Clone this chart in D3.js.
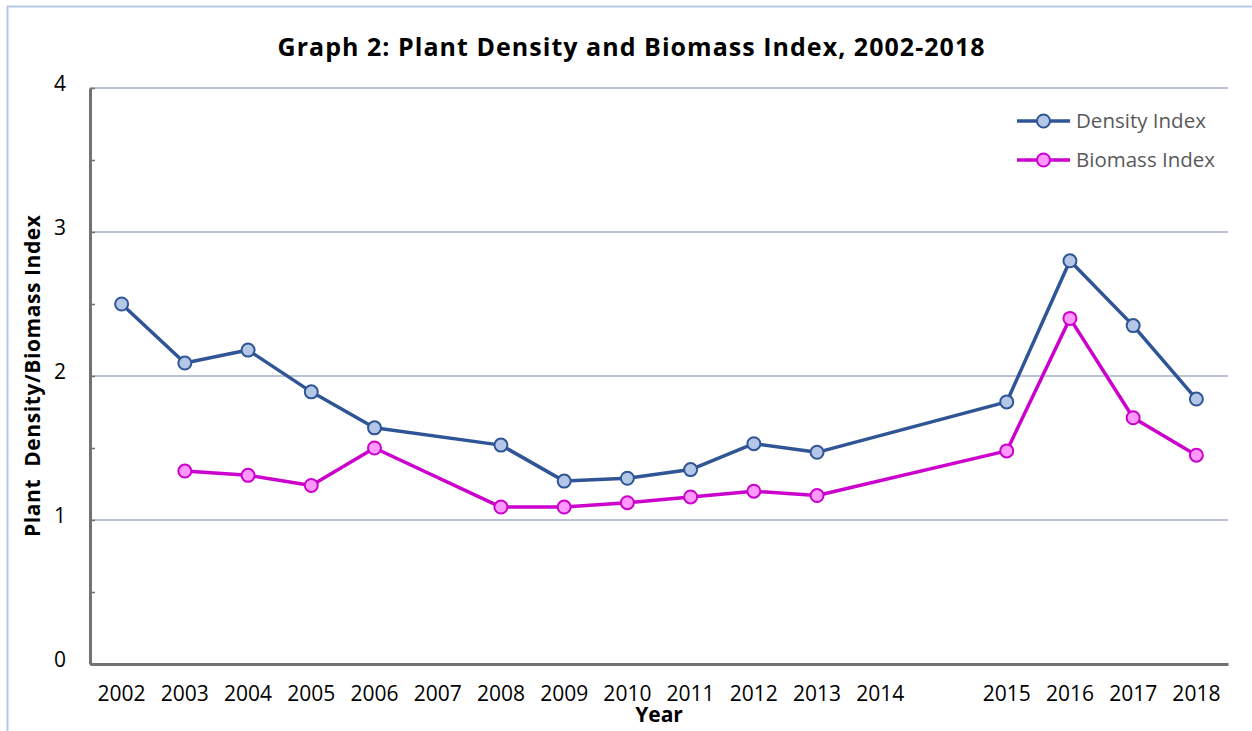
<!DOCTYPE html>
<html>
<head>
<meta charset="utf-8">
<script src="https://cdn.jsdelivr.net/npm/d3@7"></script>
<style>
  body { margin: 0; background: #fff; }
  svg { display: block; }
</style>
</head>
<body>
<div id="chart"></div>
<script>
// ── Data ─────────────────────────────────────────────────────────
// the " " category is the empty slot Excel left between 2014 and 2015
const years = ["2002", "2003", "2004", "2005", "2006", "2007", "2008", "2009", "2010",
    "2011", "2012", "2013", "2014", " ", "2015", "2016", "2017", "2018"];
const densityIndex = [2.50, 2.09, 2.18, 1.89, 1.64, null, 1.52, 1.27, 1.29,
    1.35, 1.53, 1.47, null, null, 1.82, 2.80, 2.35, 1.84];
const biomassIndex = [null, 1.34, 1.31, 1.24, 1.50, null, 1.09, 1.09, 1.12,
    1.16, 1.20, 1.17, null, null, 1.48, 2.40, 1.71, 1.45];
const yTicks = [0, 0.5, 1, 1.5, 2, 2.5, 3, 3.5, 4];

const seriesList = [
    { name: "Density Index", values: densityIndex, stroke: "#2f5597", fill: "#b4c7e7" },
    { name: "Biomass Index", values: biomassIndex, stroke: "#cc00cc", fill: "#ff99ff" }
];

// ── Layout ───────────────────────────────────────────────────────
const width = 1252;
const height = 731;
const margin = { top: 88, right: 24, bottom: 67, left: 90 };
const innerWidth = width - margin.left - margin.right;
const innerHeight = height - margin.top - margin.bottom;
const fontFamily = "'Open Sans', sans-serif";

const svg = d3.select("#chart")
    .append("svg")
    .attr("width", width)
    .attr("height", height)
    .attr("font-family", fontFamily);

// outer chart frame (only the left and top edges fall inside the picture)
svg.append("path")
    .attr("d", `M7.5,${height} V6.5 H${width}`)
    .attr("fill", "none")
    .attr("stroke", "#b4c7e7")
    .attr("stroke-width", 2);

const innerChart = svg.append("g")
    .attr("transform", `translate(${margin.left},${margin.top})`);

// Scales
const xScale = d3.scaleBand()
    .domain(years)
    .range([0, innerWidth]);

const yScale = d3.scaleLinear()
    .domain([0, 4])
    .range([innerHeight, 0]);

// Gridlines at whole values
innerChart.selectAll(".grid")
    .data(yTicks.filter(d => d > 0 && Number.isInteger(d)))
    .join("line")
    .attr("class", "grid")
    .attr("x1", 0)
    .attr("x2", innerWidth)
    .attr("y1", d => yScale(d))
    .attr("y2", d => yScale(d))
    .attr("stroke", "#b9c3d3")
    .attr("stroke-width", 2);

// Left axis: small inward ticks every 0.5, labels on whole numbers
const leftAxis = d3.axisLeft(yScale)
    .tickValues(yTicks)
    .tickSize(-5)
    .tickSizeOuter(0)
    .tickPadding(24)
    .tickFormat(d => Number.isInteger(d) ? d : "");
const yAxisG = innerChart.append("g").call(leftAxis)
    .attr("font-size", 21)
    .attr("font-family", fontFamily);
yAxisG.select(".domain").attr("stroke", "#767171").attr("stroke-width", 3);
yAxisG.selectAll(".tick line").attr("stroke", "#767171").attr("stroke-width", 1.5);
yAxisG.selectAll(".tick text").attr("fill", "#000").attr("dy", "0.1em");
yAxisG.selectAll(".tick text").filter(function () { return this.textContent === ""; }).remove();

// Bottom axis
const bottomAxis = d3.axisBottom(xScale).tickSize(0).tickPadding(22);
const xAxisG = innerChart.append("g")
    .attr("transform", `translate(0,${innerHeight})`)
    .call(bottomAxis)
    .attr("font-size", 21)
    .attr("font-family", fontFamily);
xAxisG.select(".domain").attr("stroke", "#767171").attr("stroke-width", 3);
xAxisG.selectAll(".tick text").attr("fill", "#000");
xAxisG.selectAll(".tick text").filter(function () { return this.textContent.trim() === ""; }).remove();

// Lines and markers (gaps are bridged, as in the source)
const xPos = i => xScale(years[i]) + xScale.bandwidth() / 2;
const lineGen = d3.line()
    .x(d => xPos(d.i))
    .y(d => yScale(d.v));

seriesList.forEach(s => {
    const pts = s.values
        .map((v, i) => ({ v, i }))
        .filter(d => d.v !== null);

    innerChart.append("path")
        .datum(pts)
        .attr("d", lineGen)
        .attr("fill", "none")
        .attr("stroke", s.stroke)
        .attr("stroke-width", 3.5)
        .attr("stroke-linejoin", "round");

    innerChart.selectAll(null)
        .data(pts)
        .join("circle")
        .attr("cx", d => xPos(d.i))
        .attr("cy", d => yScale(d.v))
        .attr("r", 6.5)
        .attr("fill", s.fill)
        .attr("stroke", s.stroke)
        .attr("stroke-width", 2);
});

// Legend
const legend = svg.append("g").attr("transform", "translate(1017,121)");
seriesList.forEach((s, i) => {
    const row = legend.append("g").attr("transform", `translate(0,${i * 39})`);
    row.append("line")
        .attr("x1", 0).attr("x2", 53)
        .attr("stroke", s.stroke)
        .attr("stroke-width", 3.5);
    row.append("circle")
        .attr("cx", 26.5)
        .attr("r", 6.5)
        .attr("fill", s.fill)
        .attr("stroke", s.stroke)
        .attr("stroke-width", 2);
    row.append("text")
        .text(s.name)
        .attr("x", 59)
        .attr("dy", "0.35em")
        .attr("font-size", 20.5)
        .attr("fill", "#595959");
});

// Title and axis labels
svg.append("text")
    .text("Graph 2: Plant Density and Biomass Index, 2002-2018")
    .attr("x", 631)
    .attr("y", 56)
    .attr("text-anchor", "middle")
    .attr("font-size", 25)
    .attr("font-weight", "bold")
    .attr("textLength", 707)
    .attr("lengthAdjust", "spacing");

svg.append("text")
    .text("Year")
    .attr("x", margin.left + innerWidth / 2)
    .attr("y", 722)
    .attr("text-anchor", "middle")
    .attr("font-size", 21)
    .attr("font-weight", "bold");

svg.append("text")
    .text("Plant  Density/Biomass Index")
    .attr("transform", `translate(40,${margin.top + innerHeight / 2}) rotate(-90)`)
    .attr("text-anchor", "middle")
    .attr("font-size", 21)
    .attr("font-weight", "bold")
    .attr("textLength", 322)
    .attr("lengthAdjust", "spacing")
    .style("white-space", "pre");
</script>
</body>
</html>
